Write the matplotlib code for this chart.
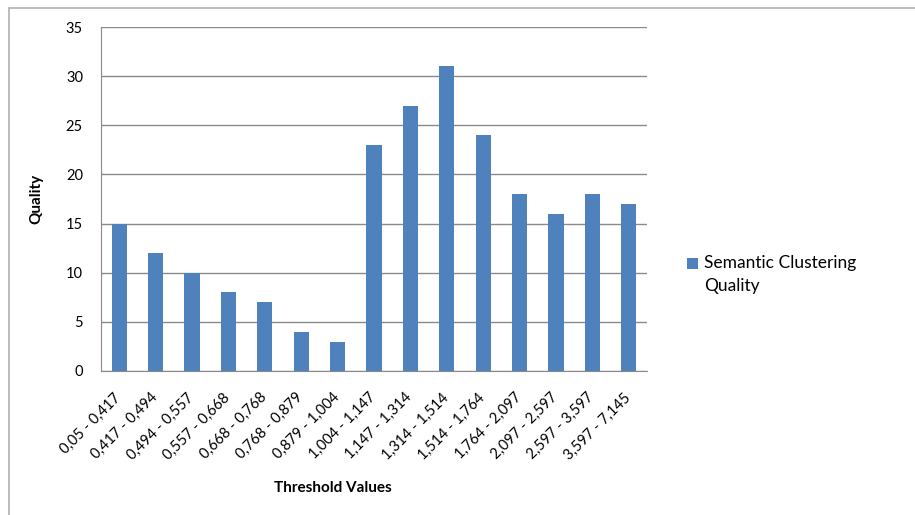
import matplotlib
matplotlib.use('Agg')
import matplotlib.pyplot as plt
from matplotlib.patches import Rectangle
from matplotlib.transforms import ScaledTranslation

plt.rcParams['font.family'] = ['Lato', 'DejaVu Sans']

# ================================
# DATA
# ================================
thresholds = ['0,05 - 0,417', '0,417 - 0,494', '0,494 - 0,557', '0,557 - 0,668',
              '0,668 - 0,768', '0,768 - 0,879', '0,879 - 1,004', '1,004 - 1,147',
              '1,147 - 1,314', '1,314 - 1,514', '1,514 - 1,764', '1,764 - 2,097',
              '2,097 - 2,597', '2,597 - 3,597', '3,597 - 7,145']
quality = [15, 12, 10, 8, 7, 4, 3, 23, 27, 31, 24, 18, 16, 18, 17]
y_ticks = [0, 5, 10, 15, 20, 25, 30, 35]

# ================================
# CHART
# ================================
fig = plt.figure(figsize=(9.15, 5.15), dpi=100)
ax = fig.add_axes([101/915, 1 - 371/515, 546/915, 344/515])

# outer chart frame (Excel style)
fig.patches.append(Rectangle((9/915, -0.1), 1.2, 1.1 - 8/515,
                             transform=fig.transFigure, fill=False,
                             edgecolor='#b0b0b0', linewidth=1.2))

x = range(len(quality))
ax.bar(x, quality, width=0.42, color='#4f81bd', label='Semantic Clustering\nQuality', zorder=3)

ax.set_xlim(-0.5, len(quality) - 0.5)
ax.set_ylim(0, 35)
ax.set_yticks(y_ticks)
ax.set_yticklabels([str(t) for t in y_ticks], fontsize=10.5)
ax.yaxis.grid(True, color='#8a8a8a', linewidth=1)
ax.set_axisbelow(True)

ax.set_xticks(list(x))
ax.set_xticklabels(thresholds, rotation=45, ha='right', rotation_mode='anchor', fontsize=10.5)
ax.tick_params(axis='x', length=0, pad=14)
ax.tick_params(axis='y', length=0, pad=13)
# nudge the rotated labels left, like Excel places them
for lbl in ax.get_xticklabels():
    lbl.set_transform(lbl.get_transform() + ScaledTranslation(-4/72, 0, fig.dpi_scale_trans))

for s in ['top', 'right']:
    ax.spines[s].set_visible(False)
ax.spines['left'].set_color('#8a8a8a')
ax.spines['bottom'].set_color('#8a8a8a')

ax.set_ylabel('Quality', fontsize=11, fontweight='bold', labelpad=16)
ax.set_xlabel('Threshold Values', fontsize=11, fontweight='bold')
ax.xaxis.set_label_coords((333 - 101) / 546, (371 - 481) / 344)

leg = ax.legend(loc='center left', bbox_to_anchor=(1.045, 0.28), frameon=False, fontsize=12.5,
                handlelength=0.6, handleheight=0.6, handletextpad=0.35)
for t in leg.get_texts():
    t.set_linespacing(1.5)
# put the square next to the first line of the label
h = leg.legend_handles[0]
h.set_y(h.get_y() + 8.5)

plt.savefig('out.png', dpi=100)
